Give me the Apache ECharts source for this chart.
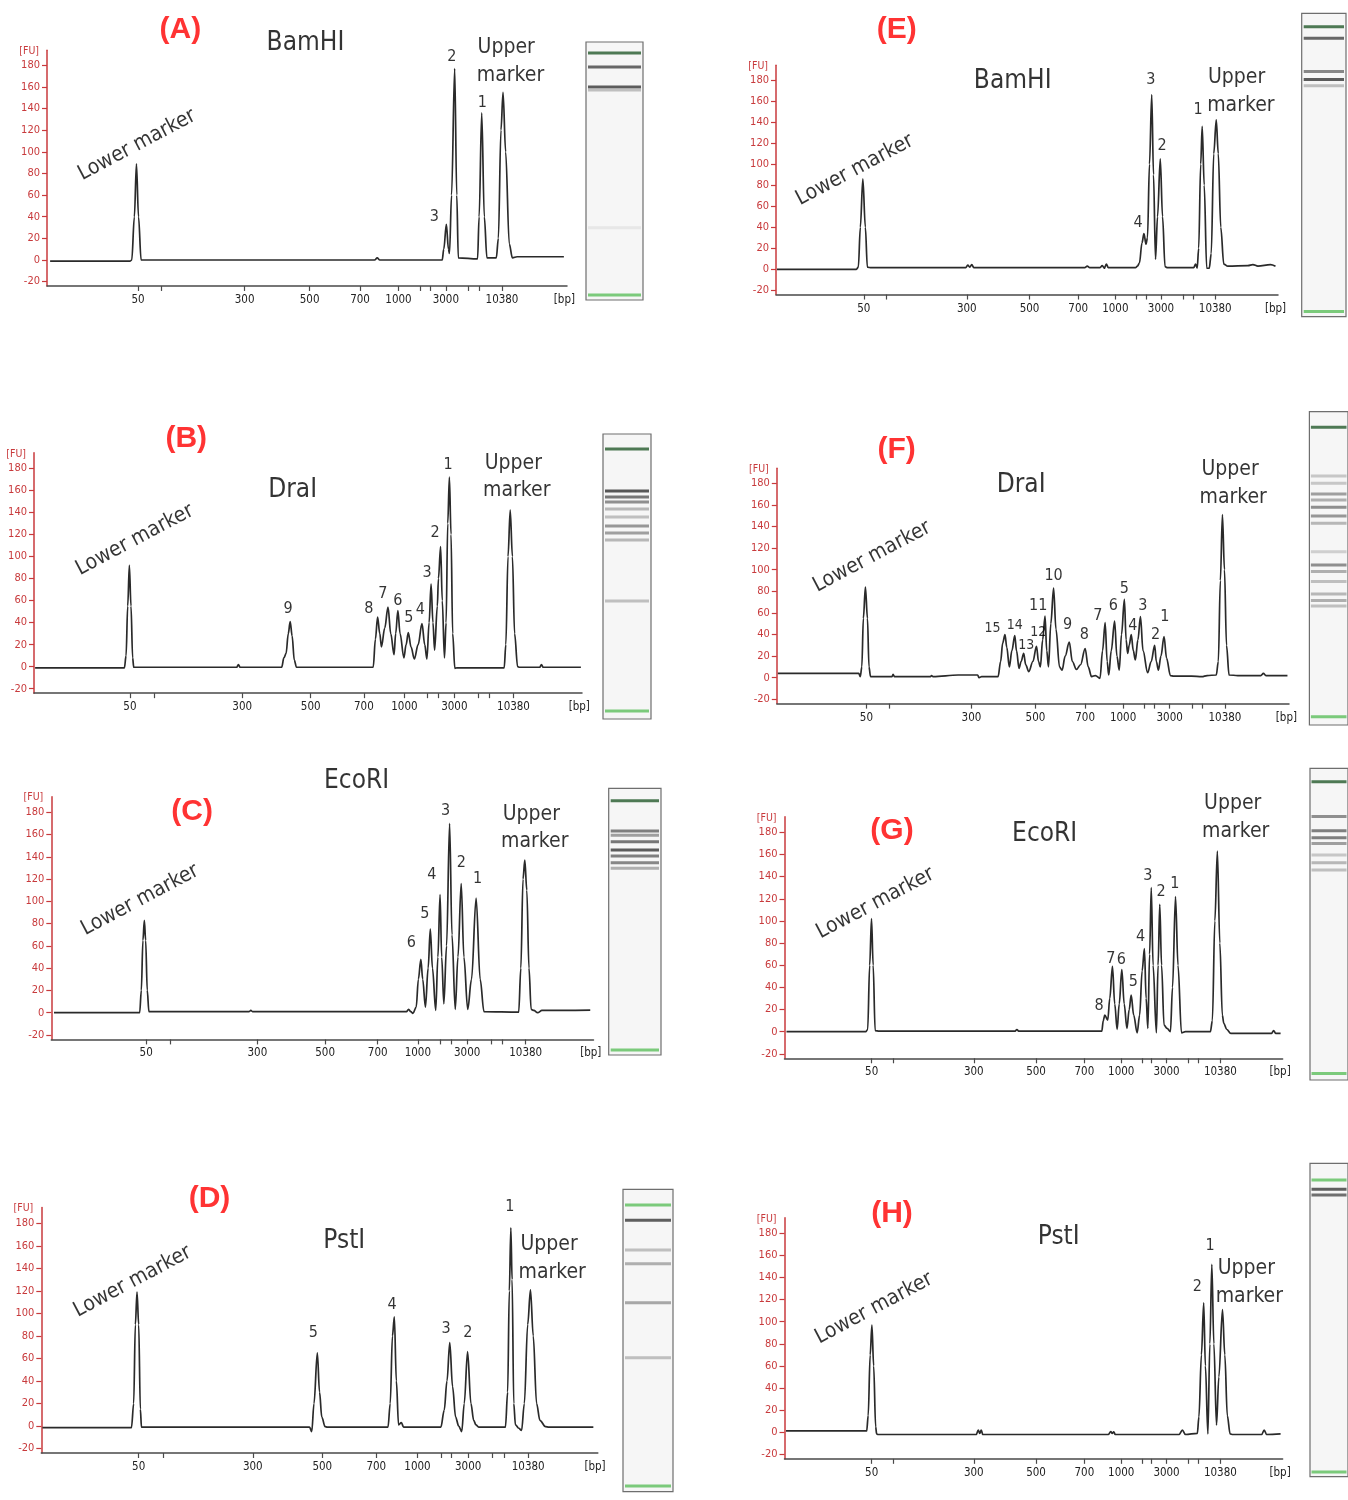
<!DOCTYPE html>
<html><head><meta charset="utf-8">
<script src="https://cdn.jsdelivr.net/npm/echarts@6/dist/echarts.min.js"></script>
<style>html,body{margin:0;padding:0;background:#fff}#c{width:1348px;height:1500px}</style>
</head><body><div id="c"></div>
<script>
// ---- axis ladder (x in migration units 0..1000) ----
const xTickPos = [175,219,380,505,602,676,718,737,767,811,831,875];
const xLabelPos = [175,380,505,602,676,767,875,995];
const xLabelText = ['50','300','500','700','1000','3000','10380','[bp]'];
const yTicks = [-20,0,20,40,60,80,100,120,140,160,180];

// ---- electropherogram traces [migration, FU] ----
const traceA = [[6,-1],[160,-1],[163,0],[168,40],[172,89],[176,40],[181,0],[190,0],[630,0],[635,2],[640,0],[760,0],[763,10],[768,33],[772,10],[774,6],[778,60],[784,177],[788,60],[791,2],[828,1],[831,40],[836,136],[841,40],[846,2],[864,2],[868,20],[873,120],[877,155],[882,100],[889,15],[895,2],[904,3],[994,3]];
const traceB = [[2,-1],[165,-1],[168,10],[171,55],[174,92],[177,55],[180,8],[182,-0.5],[370,-0.5],[373,2],[376,-0.5],[452,-0.5],[456,8],[460,12],[464,30],[467.5,41],[471,28],[475,6],[479,-0.5],[619,-0.5],[623,25],[627,45],[631,30],[634,18],[640,35],[646,54],[651,30],[657,11],[660,30],[664,51],[668,30],[675,8],[679,20],[683,31],[688,18],[694,7],[701,20],[708,39],[713,20],[717,7],[721,40],[724.6,75],[728,40],[731,15],[736,55],[738,80],[742,109],[745,60],[749,8],[752,40],[755,130],[758,172],[761,120],[764,30],[768,-1.5],[772,-1],[858,-1],[861,20],[865,100],[869,142],[873,100],[877,30],[882.5,0],[886,-0.5],[923,-0.5],[926,2],[929,-0.5],[998,-0.5]];
const traceC = [[5,0],[163,0],[166,20],[169,65],[171.6,83],[174,65],[177,20],[180,1],[365,1],[368,2],[371,1],[655,1],[659,3],[663,1],[667,-0.6],[673,5],[677,30],[681.6,48],[685,30],[690,5],[695,40],[699,75],[703,40],[709,2],[713,50],[717,106],[720,50],[724,8],[729,60],[734.6,170],[739,70],[745,3],[750,50],[756,116],[761,50],[768,3],[775,30],[783.5,103],[791,30],[798,1],[862,0.5],[866,40],[870,120],[873.3,137],[877,110],[881,40],[885,3],[890,2],[897,0],[905,2],[994,2.4]];
const traceD = [[2,-1.5],[162,-1.5],[166,20],[169,90],[172,119],[175,90],[178,15],[180,-1],[482,-1],[486,-5],[490,20],[496,65],[500,30],[504,8],[510,-0.6],[514,-1],[623,-1],[627,20],[631,80],[634.4,97],[638,40],[642,1],[647,3],[651,-1],[718,-1],[724,14],[729,40],[734,74],[739,35],[744.5,8],[750,0],[755.5,-5],[760,20],[766,66],[772,20],[777,5],[781,1],[786,-1],[834,-1],[838,30],[841,120],[843.75,176],[846,130],[849,20],[852,1],[858,-2],[863,-4],[868,20],[874,90],[879,121],[884,80],[890,20],[896,5],[906,-0.6],[912,-1],[992,-1]];
const traceE = [[2,0],[160,0],[164,2],[168,40],[173,86],[178,40],[182,2],[190,1.5],[378,1.5],[382,4],[386,2],[390,4.5],[394,1.5],[615,1.5],[620,3],[625,1.5],[645,1.5],[650,3.5],[654,1],[658,5],[662,1.5],[716,1.5],[720,3],[724,6],[729,25],[733,34],[737,24],[740,30],[744,100],[748.5,166],[752,90],[756,9.5],[760,50],[765.5,105],[770,50],[775,2.5],[780,1.5],[832,1.5],[836,5],[839,1],[842,20],[846,100],[849,136],[853,80],[858,1],[863,1],[867,15],[872,110],[877,142],[881,110],[886,40],[892,5],[900,3],[940,3.5],[950,4.5],[960,3],[985,4.5],[995,3]];
const traceF = [[2,4],[160,4],[163,1],[166,10],[169,55],[173,84],[177,55],[180,10],[183,1],[225,1],[227,3],[230,1],[300,1],[302,2],[305,1],[354,2.5],[392,2.5],[395,0],[400,1],[432,1],[437,15],[441,32],[445.5,40],[449,28],[454,10],[459,25],[464.6,39],[468,25],[473,8.6],[477,15],[482,22.5],[486,12],[492,5.6],[500,15],[507,29],[511,15],[514.6,10],[519,35],[523.7,57],[527,25],[530.4,10],[535,50],[540.4,83],[545,45],[552,10],[557,7],[563,20],[571,33],[577,15],[585,7.7],[593,12],[602,27],[608,10],[614.5,1],[622,2],[631,-0.6],[636,25],[641,51],[645,15],[648,2.5],[653,25],[659.5,52.5],[664,20],[668.6,7],[673,40],[678.6,72.5],[682,35],[685,22.5],[688,30],[692,40],[696,25],[700,16.4],[705,35],[710,56.5],[715,25],[724,4.6],[731,15],[737.7,30],[741,15],[745,7],[750,20],[756,38],[761,18],[768.5,1.9],[775,1.5],[810,1.5],[830,1],[840,2],[858,2.5],[862,15],[866,90],[870,151],[874,100],[878,30],[883,2.5],[900,2],[945,2],[950,4],[955,2],[997,2]];
const traceG = [[4,0],[163,0],[167,2],[171,60],[174.7,102],[178,60],[182,1],[190,0.5],[463,0.5],[466.6,2],[470,0.5],[637,0.5],[640,10],[643,15],[649,10.5],[653,30],[658.4,59],[663,25],[667.8,2],[672,25],[677.2,56],[682,25],[687.5,3],[692,20],[696,33],[701,15],[708,-1],[713,15],[718,55],[722.6,75],[726,30],[729.5,3],[733,70],[736.3,130],[740,60],[746.6,-1],[750,60],[753.4,115],[757,60],[762,6],[768,3],[774.8,0],[779,40],[785,122],[790,60],[797,-1],[805,0],[855,0],[859,10],[864,100],[869,163],[874,80],[879,15],[882,7.5],[888,2],[896,-1.5],[978,-1.5],[982,1],[986,-1.5],[996,-1.5]];
const traceH = [[3,1.2],[165,1.2],[168,15],[172,70],[175.5,97],[179,60],[183,5],[185,-1.5],[188,-2],[385,-2],[389,2],[392,-1],[395,2],[398,-2],[650,-2],[655,0.6],[658,-1],[661,0.5],[664,-2],[792,-2],[798.8,2],[805,-2],[828.8,-1],[832,14],[837,70],[841.6,117],[845,60],[850,-1.5],[854,80],[857.9,152],[862,80],[867.3,6.6],[872,50],[879.3,111],[884,70],[889,15],[894.7,-1.5],[900,-2],[958,-2],[963,2],[968,-2],[996,-1.5]];

// ---- annotations [migration, FU, text, kind] ----
const labelsA = [[256.5,212.7,'(A)','L'],[497,200.4,'BamHI','E'],[173,106.3,'Lower marker','LM'],[883,196.4,'Upper','U'],[891.4,170.2,'marker','U'],[778.6,187.4,'2','N'],[837,144.9,'1','N'],[745,40,'3','N']];
const labelsB = [[277.8,207,'(B)','L'],[472,160,'DraI','E'],[184,115,'Lower marker','LM'],[874.6,184.5,'Upper','U'],[881,159.4,'marker','U'],[755.6,183,'1','N'],[731.7,121,'2','N'],[717.5,85.6,'3','N'],[704.8,51.4,'4','N'],[684,43.9,'5','N'],[664,59.9,'6','N'],[636.5,66.5,'7','N'],[611,52.9,'8','N'],[463.5,52.9,'9','N']];
const labelsC = [[259.8,180.6,'(C)','L'],[563,208,'EcoRI','E'],[163.6,101.2,'Lower marker','LM'],[885.3,178.1,'Upper','U'],[891.7,153.6,'marker','U'],[727.3,181.5,'3','N'],[756.2,134.2,'2','N'],[786,119.8,'1','N'],[701.7,123.7,'4','N'],[688.9,89.2,'5','N'],[664,62.3,'6','N']];
const labelsD = [[302.3,202.2,'(D)','L'],[544.5,163.7,'PstI','E'],[164,128.2,'Lower marker','LM'],[912.5,160.7,'Upper','U'],[918,136.2,'marker','U'],[842,194.2,'1','N'],[766.4,82.3,'2','N'],[727.3,86.7,'3','N'],[630.5,108,'4','N'],[489,82.3,'5','N']];
const labelsE = [[240.4,227.5,'(E)','L'],[471.5,178.4,'BamHI','E'],[157,94.4,'Lower marker','LM'],[917.6,182.5,'Upper','U'],[926,155.3,'marker','U'],[746.8,180.6,'3','N'],[769,117.2,'2','N'],[721.3,43.7,'4','N'],[841,151.5,'1','N']];
const labelsF = [[234,210.9,'(F)','L'],[477,178.5,'DraI','E'],[185.7,112,'Lower marker','LM'],[885,192.3,'Upper','U'],[891,166.4,'marker','U'],[421,45.7,'15','S'],[464.6,48.8,'14','S'],[487,30.3,'13','S'],[510.4,41.7,'12','S'],[510.4,66.7,'11','N'],[540.4,94.5,'10','N'],[567.9,49.4,'9','N'],[600.3,40.1,'8','N'],[627,57.4,'7','N'],[657,66.7,'6','N'],[678.6,82.7,'5','N'],[695.3,47.9,'4','N'],[714.4,66.7,'3','N'],[739.4,40.1,'2','N'],[757.7,55.9,'1','N']];
const labelsG = [[215.8,181.6,'(G)','L'],[522.3,178.5,'EcoRI','E'],[182.4,115.9,'Lower marker','LM'],[899.8,206.2,'Upper','U'],[905.8,180.6,'marker','U'],[729.5,140.9,'3','N'],[756,126.4,'2','N'],[783.4,133.4,'1','N'],[715,85.8,'4','N'],[655,66.2,'7','N'],[676.4,64.7,'6','N'],[700.3,45.2,'5','N'],[631.8,23.2,'8','N']];
const labelsH = [[215.8,198,'(H)','L'],[550.5,176.4,'PstI','E'],[179.8,112.1,'Lower marker','LM'],[927.2,148.3,'Upper','U'],[933.2,122.7,'marker','U'],[854.5,168.8,'1','N'],[828.8,131.7,'2','N']];

// ---- gel lanes: bands [position 0..100 from top, darkness 0..1]; markers [position, tone] ----
const bandsA = [[9.7,0.85],[17.4,0.92],[18.6,0.3],[72,0.05]];
const bandsB = [[20,0.95],[22.1,0.75],[23.9,0.6],[26.3,0.35],[29.1,0.3],[32.3,0.55],[34.7,0.5],[37.2,0.35],[58.6,0.3]];
const bandsC = [[16.0,0.7],[17.6,0.5],[20.0,0.75],[23.1,0.92],[25.4,0.7],[27.9,0.65],[30.0,0.4]];
const bandsD = [[10.2,0.9],[20.1,0.3],[24.6,0.4],[37.5,0.45],[55.7,0.3]];
const bandsE = [[8.2,0.85],[19.2,0.65],[21.8,0.92],[23.9,0.3]];
const bandsF = [[20.5,0.25],[22.8,0.25],[26.3,0.5],[28.2,0.4],[30.5,0.6],[33.3,0.55],[35.6,0.35],[44.7,0.2],[48.9,0.6],[51.0,0.4],[54.2,0.3],[58.2,0.35],[60.3,0.4],[62.0,0.3]];
const bandsG = [[15.5,0.6],[20.0,0.7],[22.3,0.7],[24.1,0.5],[27.8,0.25],[30.3,0.35],[32.6,0.3]];
const bandsH = [[8.3,0.9],[10.1,0.8]];
const markersA = [[4.3,'dark'],[98.1,'light']];
const markersB = [[5.3,'dark'],[97.2,'light']];
const markersC = [[4.65,'dark'],[98.1,'light']];
const markersD = [[5.2,'light'],[98.1,'light']];
const markersE = [[4.4,'dark'],[98.3,'light']];
const markersF = [[5.0,'dark'],[97.4,'light']];
const markersG = [[4.3,'dark'],[97.9,'light']];
const markersH = [[5.3,'light'],[98.5,'light']];

// ---- layout (pixels) ----
const panels = [
  {trace:traceA, labels:labelsA, bands:bandsA, markers:markersA, left:47, right:567, y0:260, y180:65.3, lane:[586,42,643,300]},
  {trace:traceB, labels:labelsB, bands:bandsB, markers:markersB, left:34, right:582, y0:666.7, y180:468.3, lane:[603,434,651,719]},
  {trace:traceC, labels:labelsC, bands:bandsC, markers:markersC, left:51.3, right:593.5, y0:1012.7, y180:812.3, lane:[608.7,788.3,661,1055]},
  {trace:traceD, labels:labelsD, bands:bandsD, markers:markersD, left:41.3, right:597.8, y0:1426, y180:1223.3, lane:[623,1189.3,673,1491.7]},
  {trace:traceE, labels:labelsE, bands:bandsE, markers:markersE, left:776, right:1278, y0:269.3, y180:80, lane:[1301.7,13.3,1346,316.7]},
  {trace:traceF, labels:labelsF, bands:bandsF, markers:markersF, left:776.8, right:1289, y0:677.7, y180:483.3, lane:[1309.4,411.7,1349,725]},
  {trace:traceG, labels:labelsG, bands:bandsG, markers:markersG, left:784.5, right:1282.6, y0:1031.7, y180:832.3, lane:[1310,768.3,1349,1080]},
  {trace:traceH, labels:labelsH, bands:bandsH, markers:markersH, left:784.5, right:1282.6, y0:1432.3, y180:1233.3, lane:[1310,1163.3,1349,1476.7]}
];

const FONT = "'Liberation Sans Narrow','DejaVu Sans Condensed','Liberation Sans',sans-serif";
const RED = '#c83a3c';
const kindStyle = {
  L: {color:'#f00', fontSize:30, fontWeight:'bold', fontFamily:"'Liberation Sans',Arial,sans-serif"},
  E: {color:'#000', fontSize:26, fontFamily:FONT},
  LM:{color:'#000', fontSize:21, fontFamily:FONT, rotate:28},
  U: {color:'#000', fontSize:21, fontFamily:FONT},
  N: {color:'#000', fontSize:16, fontFamily:FONT},
  S: {color:'#000', fontSize:14, fontFamily:FONT}
};
const markerColor = {dark:'#245a2c', light:'#5cbf5c'};

const grids=[], xAxis=[], yAxis=[], series=[];
panels.forEach(p=>{
  const pu=(p.y0-p.y180)/180;
  const gi=grids.length;
  grids.push({left:p.left, top:p.y0-194*pu, width:p.right-p.left, height:218*pu});
  xAxis.push({gridIndex:gi, type:'value', min:0, max:1000,
    axisLine:{onZero:false, lineStyle:{color:'#4a4a4a', width:1.5}},
    axisTick:{customValues:xTickPos, length:5, lineStyle:{color:'#4a4a4a', width:1.2}},
    axisLabel:{customValues:xLabelPos, formatter:v=>xLabelText[xLabelPos.indexOf(v)], fontSize:11.5, color:'#222', fontFamily:FONT, margin:8},
    splitLine:{show:false}});
  yAxis.push({gridIndex:gi, type:'value', min:-24, max:194,
    name:'[FU]', nameLocation:'end', nameGap:-1,
    nameTextStyle:{color:RED, fontSize:10.5, fontFamily:FONT, align:'right', verticalAlign:'middle', padding:[0,8,0,0]},
    axisLine:{show:true, lineStyle:{color:RED, width:1.5}},
    axisTick:{show:true, customValues:yTicks, length:5, lineStyle:{color:RED, width:1.2}},
    axisLabel:{customValues:yTicks, fontSize:11, color:RED, fontFamily:FONT, margin:7},
    splitLine:{show:false}});
  series.push({type:'line', xAxisIndex:gi, yAxisIndex:gi, data:p.trace, showSymbol:false, symbol:'none',
    smooth:0.35, smoothMonotone:'x',
    lineStyle:{color:'#2a2a2a', width:1.7}, silent:true, animation:false});
  series.push({type:'scatter', xAxisIndex:gi, yAxisIndex:gi, clip:false, silent:true, animation:false, symbolSize:1,
    itemStyle:{color:'rgba(0,0,0,0)'}, z:10,
    data:p.labels.map(l=>({value:[l[0],l[1]], label:Object.assign({show:true, formatter:l[2], position:'inside'}, kindStyle[l[3]])}))});
  // gel lane
  const li=grids.length;
  const [lx0,ly0,lx1,ly1]=p.lane;
  const lw=lx1-lx0;
  grids.push({left:lx0, top:ly0, width:lw, height:ly1-ly0, show:true, backgroundColor:'#f6f6f6', borderColor:'#6e6e6e', borderWidth:1.2});
  xAxis.push({gridIndex:li, type:'value', min:0, max:1, show:false});
  yAxis.push({gridIndex:li, type:'value', min:0, max:100, inverse:true, show:false});
  series.push({type:'scatter', xAxisIndex:li, yAxisIndex:li, symbol:'rect', symbolSize:[lw-4,3], silent:true, animation:false,
    data:p.bands.map(b=>{const g=Math.round(238-b[1]*200);return {value:[0.5,b[0]], itemStyle:{color:`rgb(${g},${g},${g})`}};})
      .concat(p.markers.map(m=>({value:[0.5,m[0]], itemStyle:{color:markerColor[m[1]]}})))});
});

const chart=echarts.init(document.getElementById('c'),null,{renderer:'canvas'});
chart.setOption({backgroundColor:'#fff', animation:false, grid:grids, xAxis, yAxis, series});
</script></body></html>
